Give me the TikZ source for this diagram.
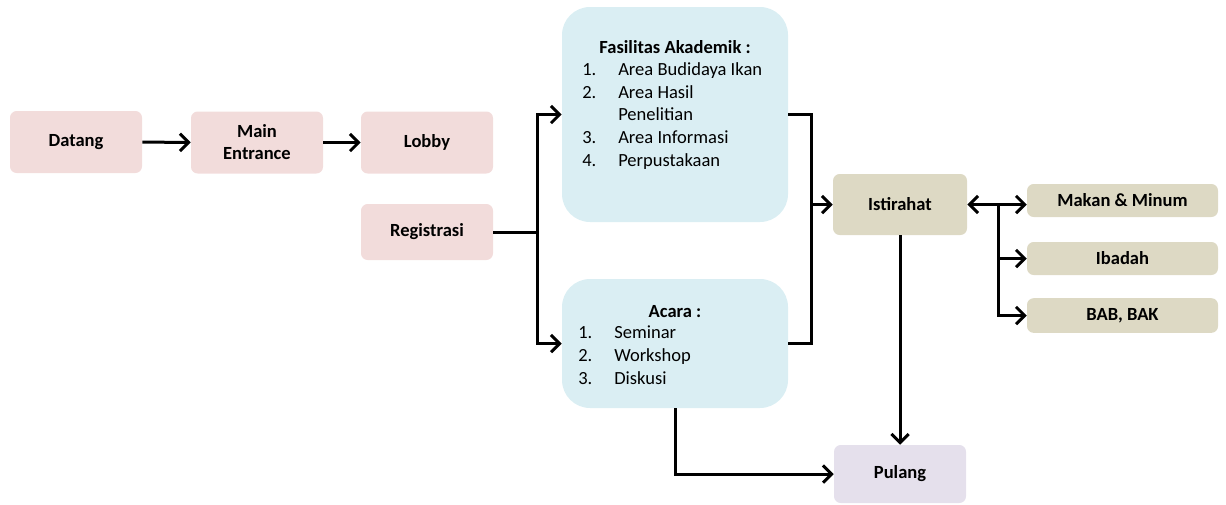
\documentclass[tikz,border=0pt]{standalone}
\usepackage{fontspec}
\setmainfont{Carlito}
\usetikzlibrary{arrows.meta}
\definecolor{pinkbox}{HTML}{F2DCDB}
\definecolor{bluebox}{HTML}{DAEEF3}
\definecolor{tanbox}{HTML}{DDD9C4}
\definecolor{lilacbox}{HTML}{E5E0EC}
\newcommand{\itemno}[1]{\makebox[27pt][l]{#1}}

\begin{document}
\begin{tikzpicture}[x=0.75pt,y=-0.75pt]
\tikzset{
  box/.style={fill=#1, rounded corners=5pt, inner sep=0pt, align=center,
    font=\bfseries\fontsize{13.9}{16.5}\selectfont},
  bigbox/.style={fill=bluebox, rounded corners=21pt, inner sep=0pt},
  listhead/.style={anchor=base, font=\bfseries\fontsize{13.9}{16.9}\selectfont},
  listbody/.style={anchor=base west, align=left, inner sep=0pt,
    font=\fontsize{13.9}{16.9}\selectfont},
  link/.style={line width=2.25pt},
  arr/.style={link, -{Straight Barb[length=6.5pt,width=13pt]}},
}
\useasboundingbox (0,0) rectangle (1226,504);

\node[box=pinkbox, minimum width=99pt, minimum height=46.5pt] (datang) at (76,142) {Datang};
\node[box=pinkbox, minimum width=99pt, minimum height=46.5pt] (main) at (257,142.5) {Main\\Entrance};
\node[box=pinkbox, minimum width=99pt, minimum height=46.5pt] (lobby) at (427,142.5) {Lobby};
\node[box=pinkbox, minimum width=99pt, minimum height=42pt] (reg) at (427,232) {Registrasi};

\node[bigbox, minimum width=169.5pt, minimum height=161.25pt] (fas) at (675,114.5) {};
\node[listhead] (fashead) at (675,53) {Fasilitas Akademik :};
% base anchor sits on the last line
\node[listbody] (faslist) at (582,166) {\itemno{1.}Area Budidaya Ikan\\
  \itemno{2.}Area Hasil\\ \itemno{}Penelitian\\ \itemno{3.}Area Informasi\\
  \itemno{4.}Perpustakaan};

\node[bigbox, minimum width=169.5pt, minimum height=96.75pt] (acara) at (675,343.5) {};
\node[listhead] (acarahead) at (675,317) {Acara :};
\node[listbody] (acaralist) at (578,384) {\itemno{1.}Seminar\\
  \itemno{2.}Workshop\\ \itemno{3.}Diskusi};

\node[box=tanbox, minimum width=100.5pt, minimum height=45.75pt] (ist) at (900,204.5) {Istirahat};
\node[box=tanbox, minimum width=143.25pt, minimum height=24.75pt] (makan) at (1122.5,200.5) {Makan \& Minum};
\node[box=tanbox, minimum width=143.25pt, minimum height=24.75pt] (ibadah) at (1122.5,258.5) {Ibadah};
\node[box=tanbox, minimum width=143.25pt, minimum height=26pt] (bab) at (1122.5,315.5) {BAB, BAK};
\node[box=lilacbox, minimum width=99pt, minimum height=43.5pt] (pulang) at (900,474) {Pulang};

\coordinate (split) at (537,232);
\coordinate (merge) at (811,204.5);
\coordinate (branch) at (998,204.5);

\draw[arr] (datang) -- (main);
\draw[arr] (main) -- (lobby);
\draw[link] (reg) -- (split);
\draw[arr] (split) |- (fas);
\draw[arr] (split) |- (acara);
\draw[link] (fas.east) -| (merge) |- (acara.east);
\draw[arr] (merge) -- (ist);
\draw[link, {Straight Barb[length=6.5pt,width=13pt]}-{Straight Barb[length=6.5pt,width=13pt]}] (ist.east) -- (ist.east -| makan.west);
\draw[arr] (branch) |- (ibadah);
\draw[arr] (branch) |- (bab);
\draw[arr] (ist) -- (pulang);
\draw[arr] (acara) |- (pulang);
\end{tikzpicture}
\end{document}
